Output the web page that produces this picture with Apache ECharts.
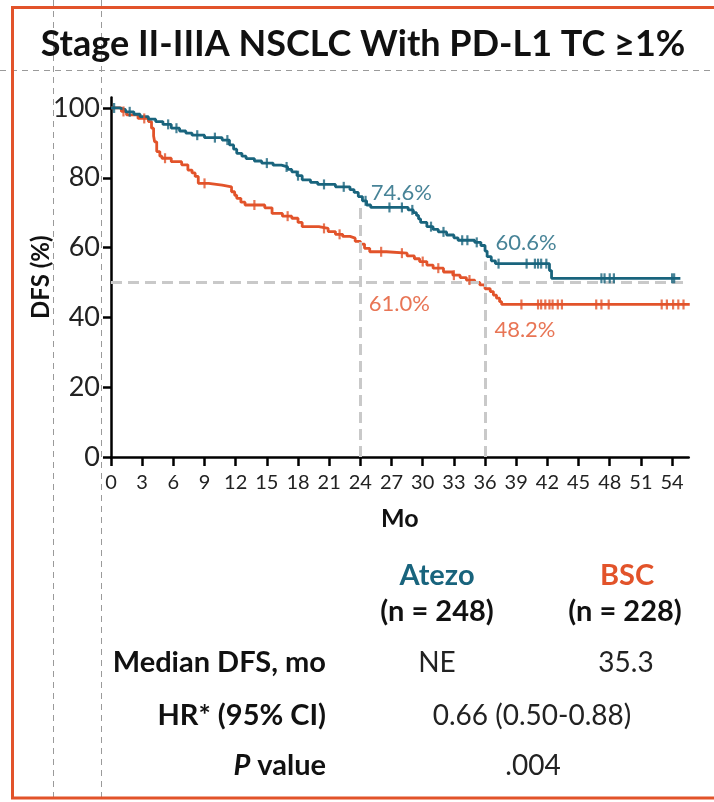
<!DOCTYPE html>
<html>
<head>
<meta charset="utf-8">
<script src="https://cdn.jsdelivr.net/npm/echarts@6/dist/echarts.min.js"></script>
<style>
html,body{margin:0;padding:0;background:#fff;}
#chart{width:714px;height:802px;}
</style>
</head>
<body>
<div id="chart"></div>
<script>
// ---------- data ----------
const title = 'Stage II-IIIA NSCLC With PD-L1 TC ≥1%';
const xTicks = [0,3,6,9,12,15,18,21,24,27,30,33,36,39,42,45,48,51,54];
const yTicks = [0,20,40,60,80,100];

const atezoTime = [0,0.8,1.4,2.2,2.8,3.6,4.3,5.0,5.8,6.6,7.2,7.8,9.0,10.7,11.4,11.8,12.1,12.6,13.0,13.8,14.5,15.6,16.4,17.0,17.4,17.9,18.4,19.2,19.9,21.6,23.0,23.4,23.8,24.2,24.6,25.0,28.6,29.1,29.4,29.6,29.8,30.4,31.0,31.5,32.3,33.0,33.4,35.0,35.6,36.0,36.2,36.6,37.0,42.2,42.4,54.8];
const atezoSurv = [100,99.5,98.9,98.2,97.5,96.8,96.1,95.3,94.2,93.4,92.8,92.2,91.5,90.8,89.4,88.2,87.0,86.2,85.5,84.8,84.2,83.6,83.1,82.4,81.7,80.6,79.4,78.7,78.1,77.4,76.6,75.8,74.6,73.4,72.2,71.5,70.8,70.0,69.2,68.2,67.2,66.0,65.2,64.5,63.6,62.8,62.1,61.5,60.6,59.0,57.4,56.2,55.4,53.4,51.2,51.2];

const bscTime = [0,1.0,1.5,2.6,3.6,3.9,4.1,4.2,4.4,4.7,4.9,5.8,6.8,7.4,7.8,8.1,8.4,9.4,10.7,11.6,11.9,12.1,12.5,12.9,14.8,15.5,16.5,17.4,18.0,18.4,20.0,20.9,21.6,22.3,23.0,23.5,24.0,24.4,24.9,26.5,28.5,29.2,29.7,30.4,31.0,32.0,32.9,33.6,34.2,35.0,35.5,36.0,36.5,36.8,37.1,37.4,37.6,55.7];
const bscSurv = [100,99.0,98.0,97.0,96.1,94.2,92.0,90.3,87.5,86.2,85.6,84.6,83.7,82.2,81.4,80.4,78.4,77.9,77.4,76.0,75.0,74.1,73.0,72.2,71.4,69.8,69.0,68.4,67.2,66.0,65.5,64.6,63.8,63.2,62.7,61.8,61.0,59.8,58.8,58.4,57.6,56.8,56.0,55.0,54.1,53.0,52.1,51.4,50.7,50.0,49.3,48.2,47.4,46.4,45.5,44.5,43.7,43.7];

const atezoCensor = [0.3,1.8,5.5,6.3,8.3,10.0,11.2,15.0,16.9,18.0,20.5,22.4,24.5,26.8,28.0,29.0,30.8,32.0,33.8,34.3,35.2,37.3,40.0,40.8,41.1,41.4,41.9,47.2,47.5,48.0,48.4,54.0,54.2];
const bscCensor = [1.2,3.2,5.2,9.0,13.8,17.0,20.5,22.0,26.0,28.0,30.0,31.5,33.0,34.5,39.5,41.1,41.4,41.8,42.2,42.5,43.0,43.4,46.7,47.2,47.9,53.0,53.5,54.1,54.6,55.1];

const medianLevel = 50;
const landmarkMonths = [24, 36];
const landmarkTops = [71.5, 56];
const pctLabels = ['74.6%', '60.6%', '61.0%', '48.2%'];
const pctLabelAt = [[25.0, 75.6], [37.0, 61.2], [24.8, 44.0], [36.9, 36.4]];

const groupNames = ['Atezo', 'BSC'];
const groupN = ['(n = 248)', '(n = 228)'];
const medianDFS = ['NE', '35.3'];
const hrText = '0.66 (0.50-0.88)';
const pText = '.004';

// ---------- styles ----------
const TEAL = '#19647d';
const ORANGE = '#e2532a';
const FONT = 'Lato, "Open Sans", sans-serif';

function zip(a, b) { return a.map((v, i) => [v, b[i]]); }
function survAt(times, surv, t) {
  let s = surv[0];
  for (let i = 0; i < times.length; i++) { if (times[i] <= t) s = surv[i]; else break; }
  return s;
}

const chart = echarts.init(document.getElementById('chart'), null, {renderer: 'canvas'});

const refData = [
  [{coord: [0, medianLevel]}, {coord: [55.4, medianLevel]}]
].concat(landmarkMonths.map((m, i) => [{coord: [m, 0]}, {coord: [m, landmarkTops[i]]}]));

const pctColors = [TEAL, TEAL, ORANGE, ORANGE];

const option = {
  animation: false,
  grid: {left: 111, right: 25.3, top: 97.5, bottom: 345, containLabel: false},
  xAxis: {
    type: 'value', min: 0, max: 55.6,
    name: 'Mo', nameLocation: 'middle', nameGap: 49,
    nameTextStyle: {fontFamily: FONT, fontWeight: 'bold', fontSize: 25, color: '#111'},
    axisLine: {lineStyle: {color: '#000', width: 2.5}},
    axisTick: {show: true, length: 9, lineStyle: {color: '#000', width: 2.5}, customValues: xTicks},
    axisLabel: {fontFamily: FONT, fontSize: 20, color: '#222', margin: 16, customValues: xTicks},
    splitLine: {show: false}
  },
  yAxis: {
    type: 'value', min: 0, max: 103,
    name: 'DFS (%)', nameLocation: 'middle', nameGap: 58, nameMoveOverlap: false,
    nameTextStyle: {fontFamily: FONT, fontWeight: 'bold', fontSize: 24, color: '#111'},
    axisLine: {show: true, lineStyle: {color: '#000', width: 2.5}},
    axisTick: {show: true, length: 8, lineStyle: {color: '#000', width: 2.5}, customValues: yTicks},
    axisLabel: {fontFamily: FONT, fontSize: 27, color: '#222', margin: 11, customValues: yTicks},
    splitLine: {show: false}
  },
  series: [
    {
      type: 'line', data: [], silent: true, z: 1,
      markLine: {
        silent: true, symbol: 'none', label: {show: false},
        lineStyle: {type: [11, 6], color: '#c9c9c9', width: 3},
        data: refData
      }
    },
    {
      type: 'line', step: 'end', data: zip(bscTime, bscSurv), showSymbol: false, z: 3,
      lineStyle: {color: ORANGE, width: 2.8}, itemStyle: {color: ORANGE}
    },
    {
      type: 'line', step: 'end', data: zip(atezoTime, atezoSurv), showSymbol: false, z: 4,
      lineStyle: {color: TEAL, width: 2.8}, itemStyle: {color: TEAL}
    },
    {
      type: 'scatter', z: 5, symbol: 'rect', symbolSize: [2.2, 10],
      itemStyle: {color: ORANGE},
      data: bscCensor.map(t => [t, survAt(bscTime, bscSurv, t)])
    },
    {
      type: 'scatter', z: 6, symbol: 'rect', symbolSize: [2.2, 10],
      itemStyle: {color: TEAL},
      data: atezoCensor.map(t => [t, survAt(atezoTime, atezoSurv, t)])
    },
    {
      type: 'scatter', z: 7, symbolSize: 0,
      data: pctLabelAt.map((p, i) => ({
        value: p,
        label: {
          show: true, formatter: pctLabels[i], position: 'right', distance: 0,
          color: pctColors[i], fontFamily: FONT, fontSize: 22
        }
      }))
    }
  ],
  graphic: [
    // slide guide lines
    {type: 'line', silent: true, z: 0, shape: {x1: 53.5, y1: 0, x2: 53.5, y2: 802}, style: {stroke: '#9a9a9a', lineWidth: 1, lineDash: [6, 5]}},
    {type: 'line', silent: true, z: 0, shape: {x1: 101.5, y1: 0, x2: 101.5, y2: 802}, style: {stroke: '#9a9a9a', lineWidth: 1, lineDash: [6, 5]}},
    {type: 'line', silent: true, z: 0, shape: {x1: 0, y1: 70.5, x2: 714, y2: 70.5}, style: {stroke: '#9a9a9a', lineWidth: 1, lineDash: [6, 5]}},
    // orange frame
    {type: 'rect', silent: true, z: 10, shape: {x: 12.5, y: 7.5, width: 720, height: 790.5}, style: {fill: 'none', stroke: ORANGE, lineWidth: 3}},
    // title
    {type: 'text', z: 10, style: {x: 363, y: 44, text: title, align: 'center', verticalAlign: 'middle', fontFamily: FONT, fontWeight: 'bold', fontSize: 36, fill: '#111'}},
    // table
    {type: 'text', z: 10, style: {x: 437, y: 576, text: groupNames[0], align: 'center', verticalAlign: 'middle', fontFamily: FONT, fontWeight: 'bold', fontSize: 29, fill: TEAL}},
    {type: 'text', z: 10, style: {x: 627, y: 576, text: groupNames[1], align: 'center', verticalAlign: 'middle', fontFamily: FONT, fontWeight: 'bold', fontSize: 29, fill: ORANGE}},
    {type: 'text', z: 10, style: {x: 437, y: 612, text: groupN[0], align: 'center', verticalAlign: 'middle', fontFamily: FONT, fontWeight: 'bold', fontSize: 29, fill: '#111'}},
    {type: 'text', z: 10, style: {x: 625, y: 612, text: groupN[1], align: 'center', verticalAlign: 'middle', fontFamily: FONT, fontWeight: 'bold', fontSize: 29, fill: '#111'}},
    {type: 'text', z: 10, style: {x: 326, y: 663, text: 'Median DFS, mo', align: 'right', verticalAlign: 'middle', fontFamily: FONT, fontWeight: 'bold', fontSize: 29, fill: '#111'}},
    {type: 'text', z: 10, style: {x: 437, y: 663, text: medianDFS[0], align: 'center', verticalAlign: 'middle', fontFamily: FONT, fontSize: 28, fill: '#222'}},
    {type: 'text', z: 10, style: {x: 626, y: 663, text: medianDFS[1], align: 'center', verticalAlign: 'middle', fontFamily: FONT, fontSize: 28, fill: '#222'}},
    {type: 'text', z: 10, style: {x: 326, y: 716, text: 'HR* (95% CI)', align: 'right', verticalAlign: 'middle', fontFamily: FONT, fontWeight: 'bold', fontSize: 29, fill: '#111'}},
    {type: 'text', z: 10, style: {x: 532, y: 716, text: hrText, align: 'center', verticalAlign: 'middle', fontFamily: FONT, fontSize: 28, fill: '#222'}},
    {type: 'text', z: 10, style: {x: 326, y: 766, text: '{i|P} value', align: 'right', verticalAlign: 'middle', fontFamily: FONT, fontWeight: 'bold', fontSize: 29, fill: '#111',
      rich: {i: {fontFamily: FONT, fontWeight: 'bold', fontStyle: 'italic', fontSize: 29, fill: '#111'}}}},
    {type: 'text', z: 10, style: {x: 533, y: 766, text: pText, align: 'center', verticalAlign: 'middle', fontFamily: FONT, fontSize: 28, fill: '#222'}}
  ]
};
chart.setOption(option);
</script>
</body>
</html>
